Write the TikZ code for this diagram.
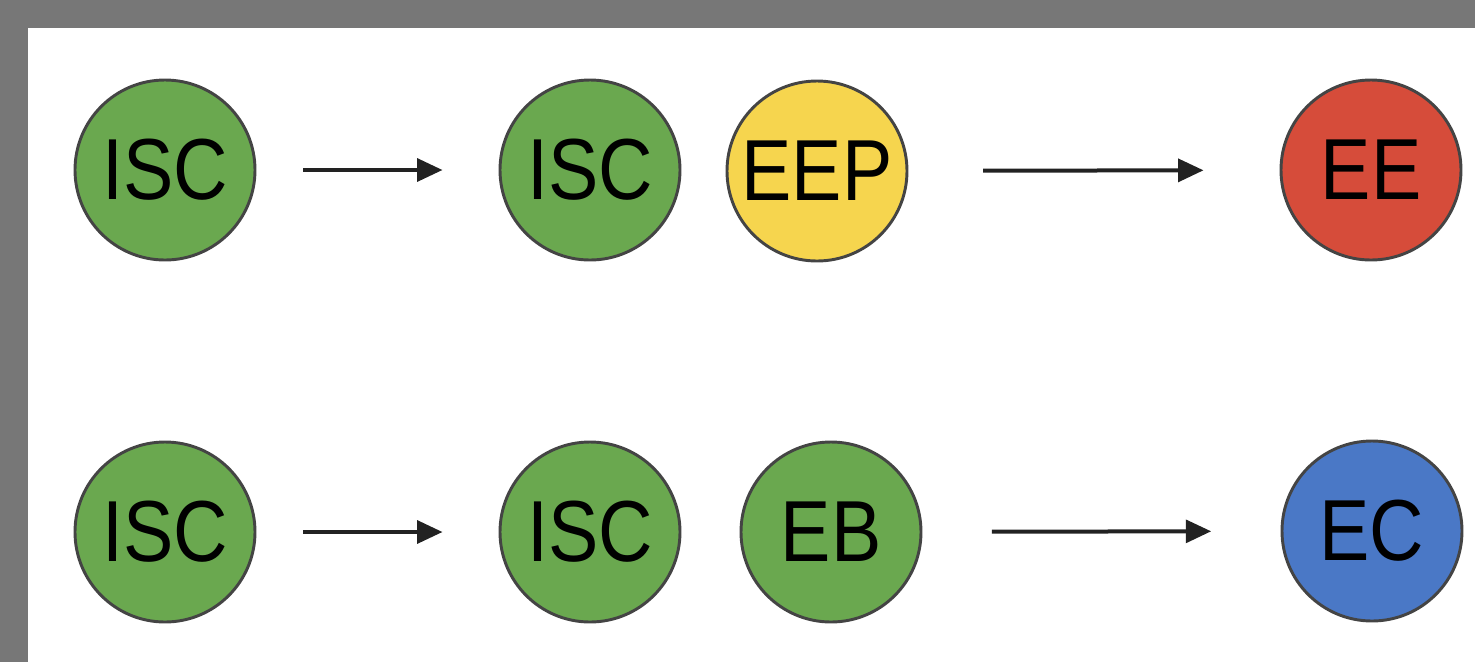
\documentclass[tikz,border=0pt]{standalone}
\usepackage{fontspec}
\usepackage{graphicx}
\setmainfont{Liberation Sans}
\usetikzlibrary{arrows.meta}
\definecolor{bggray}{HTML}{777777}
\definecolor{cgreen}{HTML}{6AA84F}
\definecolor{cyellow}{HTML}{F6D54E}
\definecolor{cred}{HTML}{D64C3A}
\definecolor{cblue}{HTML}{4A78C6}
\definecolor{cedge}{HTML}{444444}
\definecolor{carrow}{HTML}{222222}
\newcommand{\lbl}[1]{\scalebox{0.87}[1]{#1}}
\tikzset{
  state/.style={circle, draw=cedge, line width=2.2pt, minimum size=135pt, inner sep=0pt,
    font=\fontsize{65}{70}\selectfont, text=black},
  arr/.style={draw=carrow, line width=3pt, -{Triangle[length=19pt,width=17pt]}},
}
\begin{document}
\begin{tikzpicture}[x=0.75pt,y=-0.75pt]
\fill[bggray] (0,0) rectangle (1475,662);
\fill[white] (28,28) rectangle (1475,662);
\useasboundingbox (0,0) rectangle (1475,662);
% row 1
\node[state, fill=cgreen] (a1) at (165,170) {\lbl{ISC}};
\node[state, fill=cgreen] (a2) at (590,170) {\lbl{ISC}};
\node[state, fill=cyellow] (a3) at (817,171) {\lbl{EEP}};
\node[state, fill=cred] (a4) at (1371,170) {\lbl{EE}};
% row 2
\node[state, fill=cgreen] (b1) at (165,532) {\lbl{ISC}};
\node[state, fill=cgreen] (b2) at (590,532) {\lbl{ISC}};
\node[state, fill=cgreen] (b3) at (831,532) {\lbl{EB}};
\node[state, fill=cblue] (b4) at (1372,531) {\lbl{EC}};
% arrows
\draw[arr, shorten <=35pt, shorten >=42pt] (a1) -- (a2);
\draw[arr, shorten <=56pt, shorten >=57pt] (a3) -- (a4);
\draw[arr, shorten <=35pt, shorten >=42pt] (b1) -- (b2);
\draw[arr, shorten <=52pt, shorten >=52pt] (b3) -- (b4);
\end{tikzpicture}
\end{document}
